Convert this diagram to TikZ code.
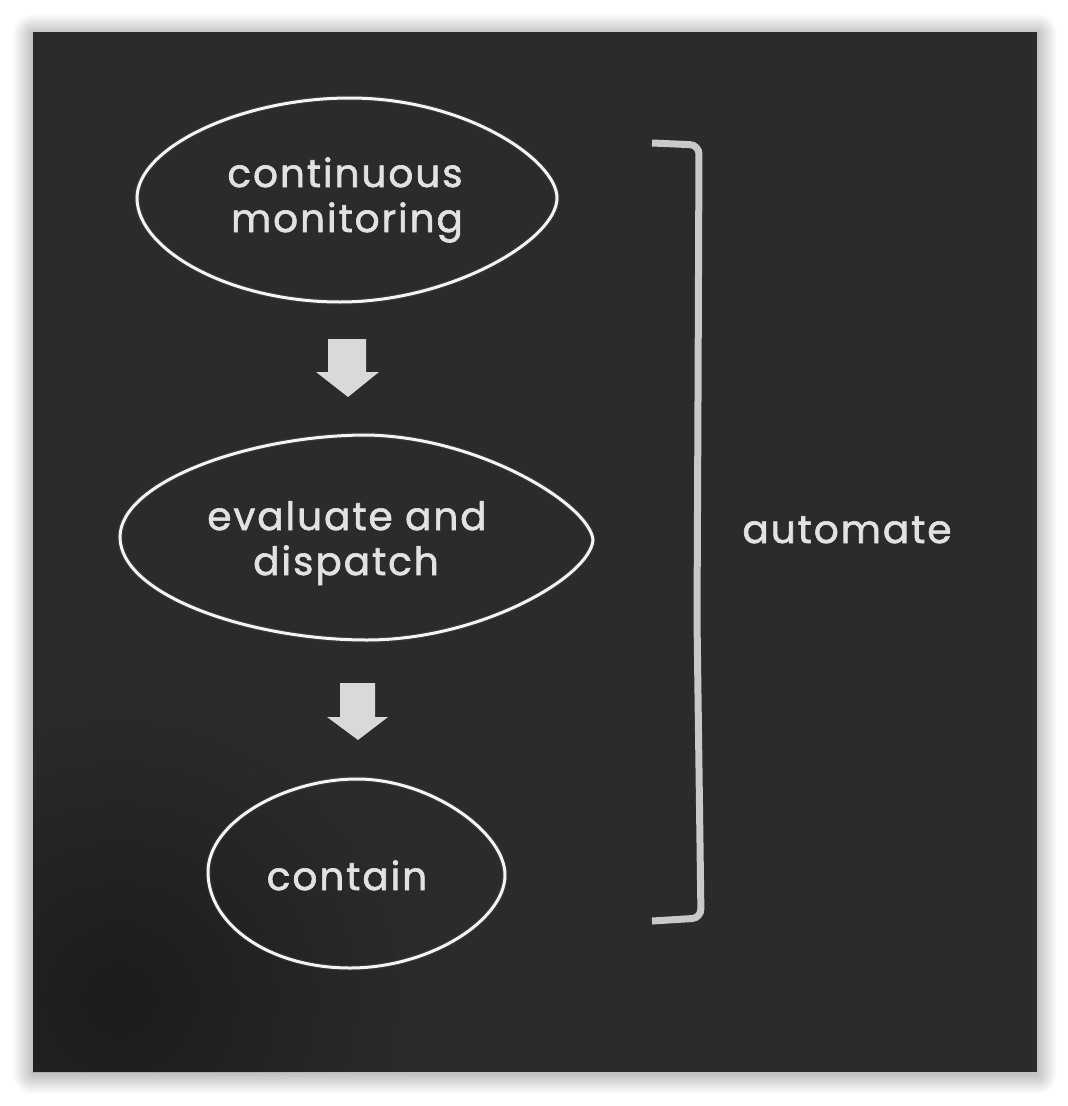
\documentclass[tikz,border=0pt]{standalone}
\usepackage{fontspec}
\setmainfont{Poppins}
\newfontfamily\chalkfont[LetterSpace=5,FakeBold=1.6]{Poppins}
\definecolor{board}{HTML}{2B2B2B}
\definecolor{chalk}{HTML}{E2E2E2}
\definecolor{outline}{HTML}{F4F4F4}
\definecolor{bracketc}{HTML}{C9C9C9}
\definecolor{arrowc}{HTML}{D9D9D9}
\tikzset{
  chalktext/.style={text=chalk, font=\chalkfont\fontsize{39}{45}\selectfont, inner sep=0pt, anchor=base},
  glowline/.style={draw=white, line width=5.5pt, opacity=0.06},
  outlineline/.style={draw=outline, line width=3pt},
  blockarrow/.style={fill=arrowc, draw=none},
  bracketline/.style={draw=bracketc, line width=7pt, rounded corners=9pt, line cap=butt}
}
\begin{document}
\begin{tikzpicture}[x=1pt,y=-1pt]
\useasboundingbox (0,0) rectangle (1068,1106);
\fill[white] (0,0) rectangle (1068,1106);
% shadow
\foreach \i in {1,...,20}{
  \fill[black, opacity=0.012, rounded corners=\i pt] (33-\i,32-\i+2) rectangle (1037+\i,1072+\i+2);
}
% board
\fill[board] (33,32) rectangle (1037,1072);
\begin{scope}
\clip (33,32) rectangle (1037,1072);
\foreach \r in {40,60,...,360}{
  \fill[white, opacity=0.004] (850,230) circle [radius=\r];
}
\foreach \r in {40,60,...,260}{
  \fill[white, opacity=0.004] (560,450) circle [radius=\r];
}
\foreach \r in {40,60,...,260}{
  \fill[white, opacity=0.003] (880,700) circle [radius=\r];
}
\foreach \r in {40,60,...,300}{
  \fill[black, opacity=0.006] (120,1000) circle [radius=\r];
}
\end{scope}
% outlines
\foreach \st in {glowline,outlineline}{
\draw[\st] (137,198) .. controls (137,148) and (240,98) .. (350,98)
  .. controls (465,98) and (557,160) .. (557,198)
  .. controls (557,240) and (450,302) .. (340,302)
  .. controls (230,302) and (137,250) .. (137,198) -- cycle;
\draw[\st] (120,537) .. controls (120,482) and (250,435) .. (367,435)
  .. controls (480,437) and (590,505) .. (593,540)
  .. controls (590,577) and (480,640) .. (367,640)
  .. controls (250,640) and (120,595) .. (120,537) -- cycle;
\draw[\st] (208,872) .. controls (208,822) and (285,779) .. (357,779)
  .. controls (430,779) and (505,832) .. (505,875)
  .. controls (505,920) and (430,968) .. (350,968)
  .. controls (270,968) and (208,925) .. (208,872) -- cycle;
}
% block arrows
\fill[blockarrow] (328,339) -- (366,339) -- (366,372) -- (379,372) -- (348,397) -- (316,372) -- (328,372) -- cycle;
\fill[blockarrow] (340,683) -- (375,683) -- (375,717) -- (388,717) -- (358,740) -- (327,717) -- (340,717) -- cycle;
% bracket
\draw[bracketline] (652,143) -- (699,145) -- (698,400) -- (697,620) -- (701,918) -- (652,921);
% texts
\node[chalktext] (t1a) at (345,187) {continuous};
\node[chalktext] (t1b) at (347,232) {monitoring};
\node[chalktext] (t2a) at (347,530) {evaluate and};
\node[chalktext] (t2b) at (346,575) {dispatch};
\node[chalktext] (t3) at (347,890) {contain};
\node[chalktext] (t4) at (847,543) {automate};
\end{tikzpicture}
\end{document}
